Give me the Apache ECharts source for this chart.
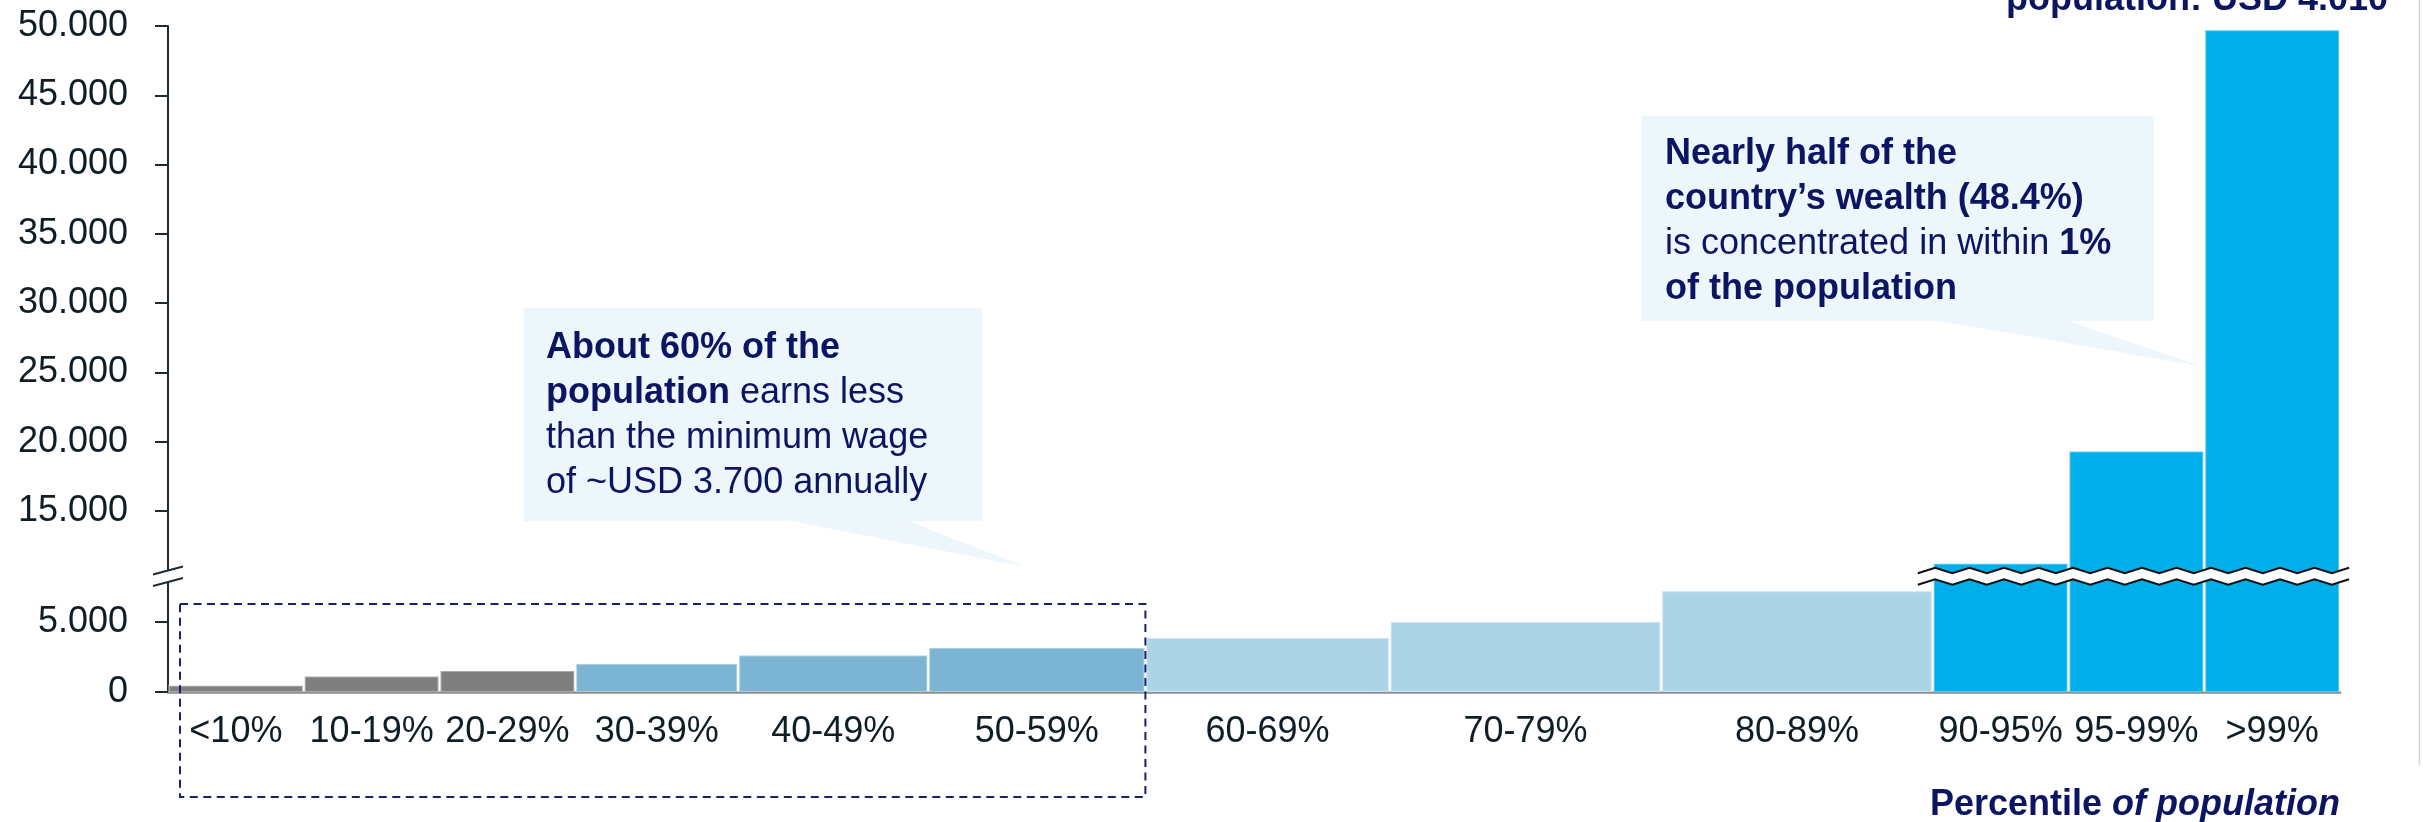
<!DOCTYPE html>
<html><head><meta charset="utf-8">
<script src="https://cdn.jsdelivr.net/npm/echarts@6.0.0/dist/echarts.min.js"></script>
<style>html,body{margin:0;padding:0;background:#fff}#c{width:2423px;height:822px}</style>
</head><body><div id="c"></div>
<script>
// ---- data ----
const categories = ['<10%','10-19%','20-29%','30-39%','40-49%','50-59%','60-69%','70-79%','80-89%','90-95%','95-99%','>99%'];
const values = [450, 1100, 1500, 2000, 2600, 3150, 3850, 5000, 7200, 11200, 19300, 49700];
const widths = [1, 1, 1, 1.2, 1.4, 1.6, 1.8, 2, 2, 1, 1, 1];
const groups = [0, 0, 0, 1, 1, 1, 2, 2, 2, 3, 3, 3];
const upperTicks = [15000, 20000, 25000, 30000, 35000, 40000, 45000, 50000];
const lowerTicks = [0, 5000];
const axisBreak = [8143, 10454];   // lower segment max, upper segment min
const axisMax = 50000;

// ---- styles ----
const FONT = '"Liberation Sans", Arial, sans-serif';
const colors = ['#7f7f7f', '#7cb4d3', '#acd4e7', '#00aeea'];
const NAVY = '#0b1562';
const DARK = '#0f1e26';
const AXIS = '#1e2a32';

const starts = []; let acc = 0;
widths.forEach(w => { starts.push(acc); acc += w; });
const total = acc;
const centers = starts.map((s, i) => s + widths[i] / 2);
const barData = categories.map((c, i) => [starts[i], starts[i] + widths[i], values[i], i]);

const fmt = v => String(v).replace(/\B(?=(\d{3})+(?!\d))/g, '.');

function makeRender(lo, hi) {
  return function (params, api) {
    const x0 = api.value(0), x1 = api.value(1), v = api.value(2), i = api.value(3);
    if (v <= lo) return null;
    const top = Math.min(v, hi);
    const p0 = api.coord([x0, top]);
    const p1 = api.coord([x1, lo]);
    return {
      type: 'rect',
      shape: { x: p0[0] + 1, y: p0[1], width: p1[0] - p0[0] - 2, height: p1[1] - p0[1] },
      style: { fill: colors[groups[i]], stroke: 'rgba(255,255,255,0.35)', lineWidth: 2 }
    };
  };
}

const chart = echarts.init(document.getElementById('c'), null, { renderer: 'canvas' });
const yLabel = { fontSize: 36, color: DARK, fontFamily: FONT, margin: 40, formatter: fmt };
chart.setOption({
  animation: false,
  grid: [
    { left: 168, right: 83, top: 26, height: 548, containLabel: false, outerBoundsMode: 'none' },
    { left: 168, right: 83, top: 578, height: 114, containLabel: false, outerBoundsMode: 'none' }
  ],
  xAxis: [
    { gridIndex: 0, type: 'value', min: 0, max: total, show: false },
    { gridIndex: 1, type: 'value', min: 0, max: total,
      axisLine: { show: true, onZero: false, lineStyle: { color: '#8e8e8e', width: 2.5 } },
      axisTick: { show: false }, splitLine: { show: false },
      axisLabel: { customValues: centers, fontSize: 36, color: DARK, fontFamily: FONT, margin: 22,
        formatter: v => { const i = centers.findIndex(c => Math.abs(c - v) < 1e-6); return i >= 0 ? categories[i] : ''; } } }
  ],
  yAxis: [
    { gridIndex: 0, type: 'value', min: axisBreak[1], max: axisMax,
      axisLine: { show: true, lineStyle: { color: AXIS, width: 2 } },
      axisTick: { show: true, length: 13, customValues: upperTicks, lineStyle: { color: AXIS, width: 2 } },
      axisLabel: Object.assign({ customValues: upperTicks }, yLabel),
      splitLine: { show: false } },
    { gridIndex: 1, type: 'value', min: 0, max: axisBreak[0],
      axisLine: { show: true, lineStyle: { color: AXIS, width: 2 } },
      axisTick: { show: true, length: 13, customValues: lowerTicks, lineStyle: { color: AXIS, width: 2 } },
      axisLabel: Object.assign({ customValues: lowerTicks }, yLabel),
      splitLine: { show: false } }
  ],
  series: [
    { type: 'custom', xAxisIndex: 0, yAxisIndex: 0, renderItem: makeRender(axisBreak[1], axisMax), data: barData, encode: { x: [0, 1], y: 2 }, clip: true },
    { type: 'custom', xAxisIndex: 1, yAxisIndex: 1, renderItem: makeRender(0, axisBreak[0]), data: barData, encode: { x: [0, 1], y: 2 }, clip: true }
  ]
});

// ---- decorations derived from axes ----
const upBottom = chart.convertToPixel({ gridIndex: 0 }, [0, axisBreak[1]]);
const loTop = chart.convertToPixel({ gridIndex: 1 }, [0, axisBreak[0]]);
const axX = upBottom[0];
const ycU = upBottom[1] - 3.5, ycL = loTop[1] + 4;
const zx0 = chart.convertToPixel({ gridIndex: 1 }, [starts[9] - 0.11, 0])[0];
const zx1 = chart.convertToPixel({ gridIndex: 1 }, [total + 0.1, 0])[0];
function zig(yc) {
  const pts = []; const half = 17.25, amp = 2.8;
  let k = 0;
  for (let x = zx0; x <= zx1 + 0.01; x += half, k++) pts.push([x, yc + (k % 2 === 0 ? amp : -amp)]);
  return pts;
}
const zu = zig(ycU), zl = zig(ycL);
const band = zu.concat(zl.slice().reverse());
const boxRight = chart.convertToPixel({ gridIndex: 1 }, [starts[6], 0])[0];

const CALLOUT = '#edf6fa';
const txt = (w) => ({ fontSize: 36, fontFamily: FONT, fontWeight: w, fill: NAVY, lineHeight: 45 });
chart.setOption({
  graphic: [
    // break band on the tall bars
    { type: 'polygon', z: 100, shape: { points: band }, style: { fill: '#fff' } },
    { type: 'polyline', z: 101, shape: { points: zu }, style: { stroke: '#111', lineWidth: 2, fill: null } },
    { type: 'polyline', z: 101, shape: { points: zl }, style: { stroke: '#111', lineWidth: 2, fill: null } },
    // axis break slashes
    { type: 'polygon', z: 100, shape: { points: [[axX - 15, ycU + 4], [axX + 15, ycU - 4], [axX + 15, ycL - 4], [axX - 15, ycL + 4]] }, style: { fill: '#fff' } },
    { type: 'line', z: 101, shape: { x1: axX - 15, y1: ycU + 4, x2: axX + 15, y2: ycU - 4 }, style: { stroke: AXIS, lineWidth: 2 } },
    { type: 'line', z: 101, shape: { x1: axX - 15, y1: ycL + 4, x2: axX + 15, y2: ycL - 4 }, style: { stroke: AXIS, lineWidth: 2 } },
    // dashed box round the bottom 60%
    { type: 'rect', z: 102, shape: { x: axX + 12, y: 604, width: boxRight - axX - 12, height: 193 },
      style: { fill: null, stroke: '#1b1f6e', lineWidth: 2, lineDash: [8, 5.5] } },
    // callouts
    { type: 'polygon', z: 5, shape: { points: [[524, 308], [982, 308], [982, 521], [908, 521], [1026, 567], [791, 521], [524, 521]] }, style: { fill: CALLOUT } },
    { type: 'polygon', z: 5, shape: { points: [[1641, 116], [2154, 116], [2154, 321], [2068, 321], [2200, 366], [1940, 321], [1641, 321]] }, style: { fill: CALLOUT } },
    { type: 'text', z: 6, x: 546, y: 326, style: {
        text: '{b|About 60% of the}\n{b|population}{n| earns less}\n{n|than the minimum wage}\n{n|of ~USD 3.700 annually}',
        rich: { b: txt('bold'), n: txt('normal') } } },
    { type: 'text', z: 6, x: 1665, y: 132, style: {
        text: '{b|Nearly half of the}\n{b|country\u2019s wealth (48.4%)}\n{n|is concentrated in within }{b|1%}\n{b|of the population}',
        rich: { b: txt('bold'), n: txt('normal') } } },
    // titles
    { type: 'text', z: 6, x: 2388, y: 0, style: { text: 'population: USD 4.010', fontSize: 36, fontWeight: 'bold', fontFamily: FONT, fill: NAVY, align: 'right', verticalAlign: 'middle' } },
    { type: 'text', z: 6, x: 2340, y: 805, style: { text: '{a|Percentile }{b|of population}', align: 'right', verticalAlign: 'middle',
        rich: { a: { fontSize: 36, fontWeight: 'bold', fontFamily: FONT, fill: NAVY, lineHeight: 40 },
                b: { fontSize: 36, fontWeight: 'bold', fontStyle: 'italic', fontFamily: FONT, fill: NAVY, lineHeight: 40 } } } },
    // slide edge line
    { type: 'line', z: 1, shape: { x1: 2419.5, y1: 0, x2: 2419.5, y2: 765 }, style: { stroke: '#d4d4d4', lineWidth: 1.5 } }
  ]
});
</script></body></html>
